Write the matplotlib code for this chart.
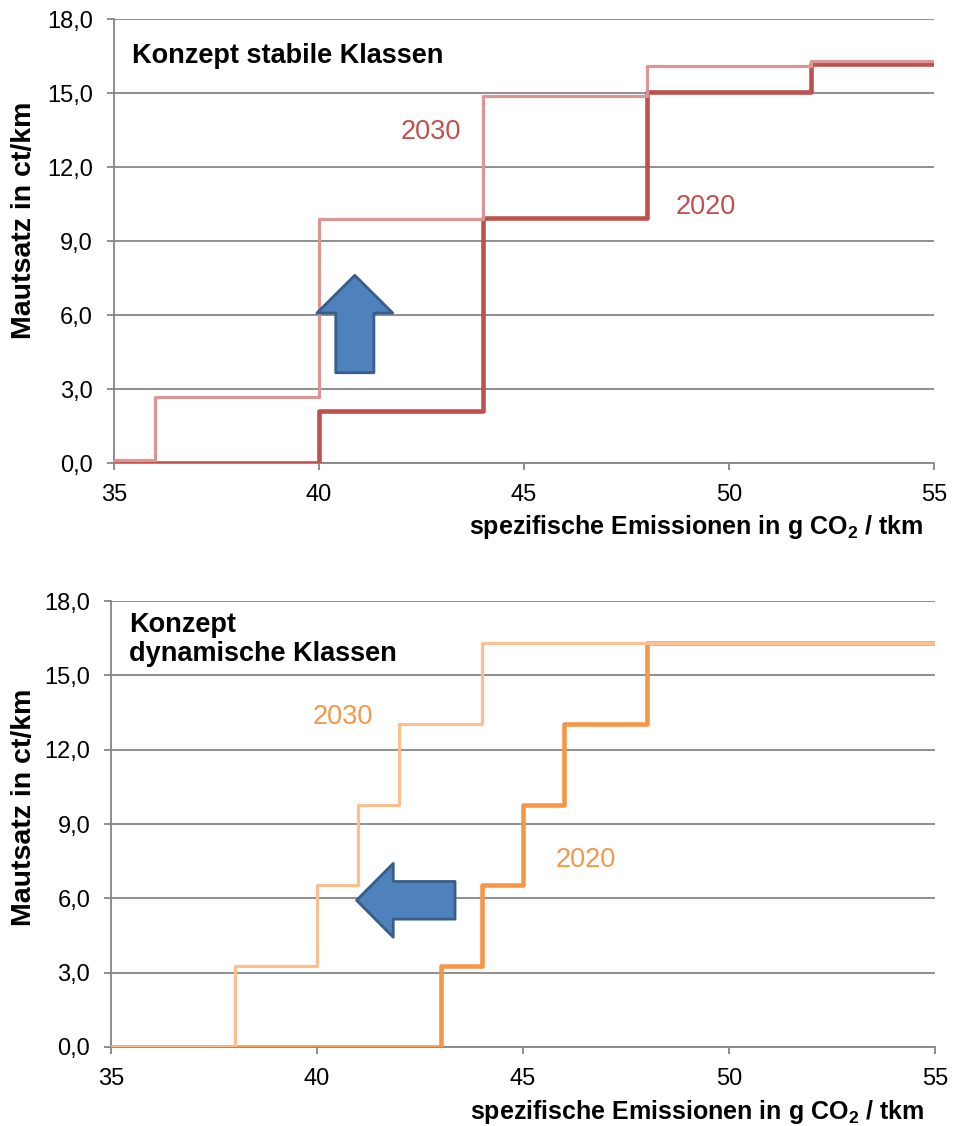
import matplotlib
matplotlib.use('Agg')
import matplotlib.pyplot as plt
import matplotlib.patches as mpatches
from matplotlib.ticker import FuncFormatter

plt.rcParams['font.family'] = ['Liberation Sans', 'DejaVu Sans']
plt.rcParams['mathtext.fontset'] = 'custom'
plt.rcParams['mathtext.rm'] = 'Liberation Sans'
plt.rcParams['mathtext.bf'] = 'Liberation Sans:bold'

# Stufen der Mautsätze (ct/km) über spezifische Emissionen (g CO2/tkm)
STAB_X_2020 = [35, 40, 44, 48, 52, 55]
STAB_Y_2020 = [0.0, 2.12, 9.93, 15.06, 16.18, 16.18]
STAB_X_2030 = [35, 36, 40, 44, 48, 52, 55]
STAB_Y_2030 = [0.12, 2.66, 9.88, 14.87, 16.1, 16.28, 16.28]

DYN_X_2020 = [35, 43, 44, 45, 46, 48, 55]
DYN_Y_2020 = [0.0, 3.26, 6.52, 9.78, 13.04, 16.3, 16.3]
DYN_X_2030 = [35, 38, 40, 41, 42, 44, 55]
DYN_Y_2030 = [0.0, 3.26, 6.52, 9.78, 13.04, 16.3, 16.3]

X_TICKS = [35, 40, 45, 50, 55]
Y_TICKS = [0, 3, 6, 9, 12, 15, 18]

RED_DARK, RED_LIGHT = '#C0504D', '#DA9694'
ORA_DARK, ORA_LIGHT = '#F79646', '#FAC090'
GRID = '#868686'
ARROW_FACE, ARROW_EDGE = '#4F81BD', '#385D8A'

XLABEL = r'spezifische Emissionen in g CO$_{\mathbf{2}}$ / tkm'
YLABEL = 'Mautsatz in ct/km'


def style_axes(ax, lab_y):
    ax.set_xlim(35, 55)
    ax.set_ylim(0, 18)
    ax.set_xticks(X_TICKS)
    ax.set_yticks(Y_TICKS)
    ax.yaxis.set_major_formatter(
        FuncFormatter(lambda v, p: f'{v:.1f}'.replace('.', ',')))
    ax.grid(axis='y', color=GRID, linewidth=1.3, zorder=0)
    ax.set_axisbelow(True)
    for s in ['top', 'right']:
        ax.spines[s].set_visible(False)
    for s in ['left', 'bottom']:
        ax.spines[s].set_color(GRID)
        ax.spines[s].set_linewidth(1.3)
    ax.tick_params(axis='y', direction='out', length=5, width=1.3,
                   color=GRID, pad=10, labelsize=17)
    ax.tick_params(axis='x', direction='out', length=5, width=1.3,
                   color=GRID, pad=10, labelsize=17)
    ax.set_xlabel(XLABEL, fontsize=18, fontweight='bold',
                  ha='right', va='center')
    ax.xaxis.set_label_coords(0.9866, lab_y)
    ax.set_ylabel(YLABEL, fontsize=20.5, fontweight='bold', va='center')


fig = plt.figure(figsize=(9.56, 11.26), dpi=100)

# oben: stabile Klassen
ax1 = fig.add_axes([0.1192, 0.5888, 0.8577, 0.3943])
style_axes(ax1, -0.144)
ax1.yaxis.set_label_coords(-0.1098, 0.547)
ax1.step(STAB_X_2020, STAB_Y_2020, where='post', color=RED_DARK,
         linewidth=3.3, zorder=3)
ax1.step(STAB_X_2030, STAB_Y_2030, where='post', color=RED_LIGHT,
         linewidth=2.3, zorder=4)
ax1.text(42.73, 13.4, '2030', color=RED_DARK, fontsize=19.5,
         ha='center', va='center')
ax1.text(49.44, 10.36, '2020', color=RED_DARK, fontsize=19.5,
         ha='center', va='center')
ax1.text(0.022, 0.9016, 'Konzept stabile Klassen', transform=ax1.transAxes,
         fontsize=19.5, fontweight='bold', va='baseline')
ax1.add_patch(mpatches.FancyArrow(40.875, 3.66, 0, 3.95, width=0.93,
                                  head_width=1.85, head_length=1.53,
                                  length_includes_head=True,
                                  facecolor=ARROW_FACE, edgecolor=ARROW_EDGE,
                                  linewidth=2, joinstyle='round', zorder=5))

# unten: dynamische Klassen
ax2 = fig.add_axes([0.1161, 0.0702, 0.862, 0.396])
style_axes(ax2, -0.146)
ax2.yaxis.set_label_coords(-0.1056, 0.538)
ax2.step(DYN_X_2020, DYN_Y_2020, where='post', color=ORA_DARK,
         linewidth=3.3, zorder=3)
ax2.step(DYN_X_2030, DYN_Y_2030, where='post', color=ORA_LIGHT,
         linewidth=2.3, zorder=4)
ax2.text(40.63, 13.32, '2030', color=ORA_DARK, fontsize=19.5,
         ha='center', va='center')
ax2.text(46.53, 7.55, '2020', color=ORA_DARK, fontsize=19.5,
         ha='center', va='center')
ax2.text(0.0218, 0.8646, 'Konzept\ndynamische Klassen', transform=ax2.transAxes,
         fontsize=19.5, fontweight='bold', va='baseline', linespacing=1.15)
ax2.add_patch(mpatches.FancyArrow(43.35, 5.92, -2.39, 0, width=1.52,
                                  head_width=2.98, head_length=0.89,
                                  length_includes_head=True,
                                  facecolor=ARROW_FACE, edgecolor=ARROW_EDGE,
                                  linewidth=2, joinstyle='round', zorder=5))

plt.savefig('out.png', dpi=100)
